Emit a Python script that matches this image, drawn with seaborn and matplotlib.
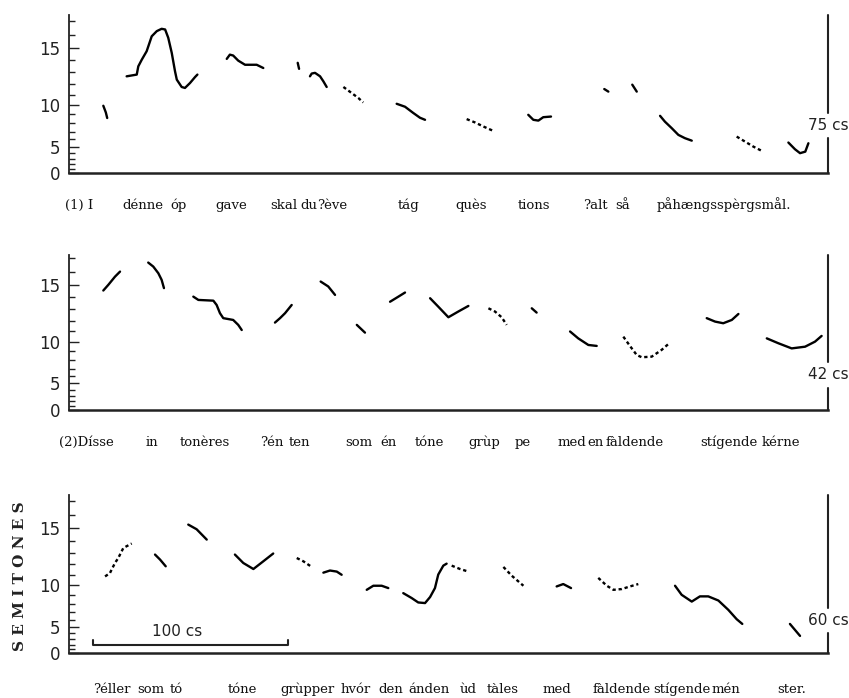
import numpy as np
import pandas as pd
import matplotlib
matplotlib.use('Agg')
import matplotlib.pyplot as plt
import seaborn as sns
from matplotlib.ticker import FixedLocator

# pitch contours, time in cs, pitch in semitones
p1_time = [
    [17.9, 19.2, 19.9],
    [29.9, 35.1, 35.9, 37.7, 40.2, 42.8, 45.4, 47.9, 49.7, 51.3, 53.1, 54.8, 55.7, 58.2, 59.9, 62.5, 65.1, 66.3],
    [81.4, 83.0, 84.7, 87.3, 90.8, 96.8, 100.2],
    [117.9, 118.6],
    [124.2, 125.1, 126.8, 129.4, 131.1, 132.8],
    [141.4, 145.7, 149.1, 151.6],
    [168.8, 173.1, 177.2, 180.8, 183.4],
    [204.8, 209.1, 213.4, 218.5],
    [236.5, 239.1, 241.7, 244.2, 248.2],
    [275.6, 277.7],
    [290.0, 292.3],
    [304.3, 306.8, 310.3, 313.7, 317.1, 320.6],
    [343.7, 348.0, 352.3, 357.4],
    [370.3, 373.7, 376.3, 379.0, 380.6],
]
p1_semi = [
    [9.9, 9.2, 8.6],
    [12.66, 12.81, 13.51, 14.06, 14.73, 15.87, 16.25, 16.42, 16.37, 15.76, 14.6, 13.08, 12.37, 11.71, 11.62, 12.07, 12.6, 12.81],
    [14.12, 14.46, 14.39, 13.98, 13.64, 13.64, 13.37],
    [13.8, 13.3],
    [12.66, 12.9, 12.96, 12.66, 12.22, 11.71],
    [11.71, 11.14, 10.67, 10.23],
    [10.1, 9.8, 9.17, 8.63, 8.4],
    [8.48, 8.1, 7.63, 7.1],
    [8.95, 8.4, 8.31, 8.69, 8.76],
    [11.52, 11.28],
    [11.92, 11.28],
    [8.84, 8.19, 7.43, 6.6, 6.17, 5.84],
    [6.38, 5.71, 5.0, 4.24],
    [5.58, 4.61, 4.0, 4.24, 5.48],
]
p1_dotted = [5, 7, 12]

p2_time = [
    [17.9, 20.5, 23.9, 26.5],
    [41.0, 43.6, 46.2, 47.9, 49.1],
    [64.2, 66.8, 74.5, 76.2, 77.9, 79.6, 84.7, 87.3, 89.1],
    [106.2, 108.8, 111.4, 114.8],
    [129.7, 133.6, 137.1],
    [148.3, 152.5],
    [165.4, 169.7, 173.1],
    [186.0, 190.2, 195.4, 200.5, 205.7],
    [216.0, 219.4, 222.8, 225.4],
    [238.3, 240.8],
    [258.0, 262.2, 267.4, 271.7],
    [285.4, 288.8, 292.3, 294.9, 300.0, 305.1, 309.4],
    [328.3, 332.6, 336.8, 341.2, 344.6],
    [359.2, 365.1, 372.0, 378.9, 384.0, 387.4],
]
p2_semi = [
    [14.55, 15.0, 15.62, 16.0],
    [16.66, 16.37, 15.88, 15.38, 14.74],
    [14.06, 13.79, 13.73, 13.37, 12.67, 12.23, 12.07, 11.62, 11.14],
    [11.83, 12.23, 12.67, 13.37],
    [15.25, 14.87, 14.2],
    [11.62, 10.89],
    [13.64, 14.06, 14.39],
    [13.93, 13.23, 12.31, 12.81, 13.29],
    [13.09, 12.81, 12.31, 11.62],
    [13.09, 12.72],
    [11.0, 10.33, 9.66, 9.56],
    [10.5, 9.56, 8.58, 8.33, 8.4, 9.14, 9.9],
    [12.23, 11.92, 11.77, 12.07, 12.6],
    [10.33, 9.84, 9.3, 9.48, 10.0, 10.57],
]
p2_dotted = [8, 11]

p3_time = [
    [18.8, 21.3, 23.9, 25.6, 28.2, 32.5],
    [44.5, 47.1, 50.0],
    [61.6, 65.9, 71.1],
    [85.6, 89.9, 95.1, 100.2, 105.3],
    [117.4, 120.8, 125.1],
    [131.1, 134.5, 138.0, 140.5],
    [153.4, 156.8, 161.1, 164.5],
    [172.2, 176.5, 179.9, 183.4, 186.0, 188.5, 190.2, 192.8, 194.5],
    [197.1, 201.4, 205.7],
    [223.7, 228.0, 234.0],
    [251.1, 254.5, 258.5],
    [272.5, 276.9, 280.3, 284.6, 288.8, 293.1],
    [312.0, 315.4, 320.6, 324.8, 329.1, 334.3, 339.4, 343.7, 346.6],
    [371.1, 376.3],
]
p3_semi = [
    [10.84, 11.16, 12.09, 12.53, 13.39, 13.76],
    [12.83, 12.39, 11.79],
    [15.26, 14.9, 14.08],
    [12.83, 12.09, 11.54, 12.24, 12.92],
    [12.53, 12.24, 11.73],
    [11.2, 11.4, 11.3, 11.0],
    [9.5, 9.92, 9.92, 9.68],
    [9.15, 8.62, 8.12, 8.05, 8.73, 9.68, 11.02, 11.85, 12.03],
    [11.85, 11.54, 11.3],
    [11.73, 10.91, 9.92],
    [9.85, 10.09, 9.68],
    [10.7, 9.92, 9.5, 9.58, 9.85, 10.09],
    [9.92, 8.97, 8.22, 8.8, 8.8, 8.34, 7.25, 6.06, 5.41],
    [5.41, 3.58],
]
p3_dotted = [0, 4, 8, 9, 11]

# syllables and where they start (cs)
p1_syll = ['(1) I', 'dénne', 'óp', 'gave', 'skal', 'du', '?ève', 'tág', 'quès', 'tions',
           '?alt', 'så', 'påhængsspèrgsmål.']
p1_syll_x = [-1.8, 27.5, 52.2, 75.4, 103.7, 119.1, 127.8, 169.5, 198.8, 231.2, 264.7, 281.1, 302.7]
p2_syll = ['(2)Dísse', 'in', 'tonères', '?én', 'ten', 'som', 'én', 'tóne', 'grùp', 'pe',
           'med', 'en', 'fàldende', 'stígende', 'kérne']
p2_syll_x = [-4.9, 39.4, 57.4, 98.5, 113.4, 142.2, 160.2, 178.2, 205.5, 229.7, 251.8, 266.7,
             276.0, 324.8, 356.7]
p3_syll = ['?éller', 'som', 'tó', 'tóne', 'grùpper', 'hvór', 'den', 'ánden', 'ùd', 'tàles',
           'med', 'fàldende', 'stígende', 'mén', 'ster.']
p3_syll_x = [12.6, 35.2, 52.2, 82.0, 108.8, 139.7, 159.2, 174.6, 201.4, 215.3, 243.6, 269.3,
             300.7, 331.0, 364.4]

end_labels = ['75 cs', '42 cs', '60 cs']
scale_start = 12.8
scale_len = 100

# semitone axis is stretched towards the top
K = 0.0793


def fwd(s):
    s = np.asarray(s, dtype=float)
    return np.where(s >= 0, s + K * s * s, s)


def inv(p):
    p = np.asarray(p, dtype=float)
    return np.where(p >= 0, (-1 + np.sqrt(1 + 4 * K * np.maximum(p, 0))) / (2 * K), p)


def to_frame(times, semis, dotted):
    rows = []
    for i, (ts, ss) in enumerate(zip(times, semis)):
        kind = 'dotted' if i in dotted else 'solid'
        for t, s in zip(ts, ss):
            rows.append((i, t, s, kind))
    return pd.DataFrame(rows, columns=['seg', 'time', 'semi', 'kind'])


sns.set_theme(style='white')
plt.rcParams['font.family'] = ['DejaVu Sans']

fig = plt.figure(figsize=(8.49, 6.98), dpi=100)

panels = [
    dict(rect=[0.0807, 0.7517, 0.8946, 0.2268], top=17.4, times=p1_time, semis=p1_semi,
         dotted=p1_dotted, syll=p1_syll, sx=p1_syll_x, sy=-0.227, gap=(0.223, 0.381)),
    dict(rect=[0.0807, 0.4126, 0.8946, 0.2221], top=17.2, times=p2_time, semis=p2_semi,
         dotted=p2_dotted, syll=p2_syll, sx=p2_syll_x, sy=-0.235, gap=(0.142, 0.31)),
    dict(rect=[0.0807, 0.0638, 0.8946, 0.2271], top=17.42, times=p3_time, semis=p3_semi,
         dotted=p3_dotted, syll=p3_syll, sx=p3_syll_x, sy=-0.25, gap=(0.129, 0.287)),
]

axes = []
for i, pan in enumerate(panels):
    ax = fig.add_axes(pan['rect'])
    df = to_frame(pan['times'], pan['semis'], pan['dotted'])
    sns.lineplot(data=df, x='time', y='semi', units='seg', estimator=None, style='kind',
                 dashes={'solid': '', 'dotted': (1.4, 1.2)}, color='black', lw=1.7,
                 sort=False, legend=False, ax=ax)
    ax.set_yscale('function', functions=(fwd, inv))
    ax.set_xlim(0, 390.7)
    ax.set_ylim(0, pan['top'])
    ax.set_xticks([])
    ax.yaxis.set_major_locator(FixedLocator([0, 5, 10, 15]))
    ax.yaxis.set_minor_locator(FixedLocator(list(range(0, 18))))
    ax.set_yticklabels(['0', '5', '10', '15'])
    ax.tick_params(axis='y', which='major', direction='in', length=7.5, width=1.0,
                   labelsize=12, pad=6, left=True, colors='#222222')
    ax.tick_params(axis='y', which='minor', direction='in', length=4, width=1.0, left=True,
                   color='#222222')
    ax.set_xlabel('')
    ax.set_ylabel('')
    for side in ['top', 'right']:
        ax.spines[side].set_visible(False)
    for side in ['left', 'bottom']:
        ax.spines[side].set_color('#222222')
    ax.spines['left'].set_linewidth(1.3)
    ax.spines['bottom'].set_linewidth(1.8)

    # right edge line broken by the duration label
    g0, g1 = pan['gap']
    ax.axvline(390.7, ymin=0, ymax=g0, color='#222222', lw=1.5, clip_on=False)
    ax.axvline(390.7, ymin=g1, ymax=1, color='#222222', lw=1.5, clip_on=False)
    ax.text(1.0, (g0 + g1) / 2, end_labels[i], transform=ax.transAxes, ha='center',
            va='center', fontsize=11, color='#222222')

    for lab, x in zip(pan['syll'], pan['sx']):
        ax.text(x, pan['sy'], lab, transform=ax.get_xaxis_transform(), ha='left',
                va='baseline', fontsize=9.5, family='DejaVu Serif', color='#111111')
    axes.append(ax)

# 100 cs scale bar in the last panel
ax3 = axes[2]
trans = ax3.get_xaxis_transform()
ax3.plot([scale_start, scale_start, scale_start + scale_len, scale_start + scale_len],
         [0.085, 0.054, 0.054, 0.085], transform=trans, color='#222222', lw=1.5)
ax3.text(scale_start + scale_len / 2 - 7, 0.137, '100 cs', transform=trans, ha='center',
         va='center', fontsize=11, color='#222222')

fig.text(20 / 849, 1 - 576 / 698, 'S E M I T O N E S', rotation=90, ha='center', va='center',
         fontsize=11, family='DejaVu Serif', weight='bold', color='#222222')

fig.savefig('out.png', dpi=100)
